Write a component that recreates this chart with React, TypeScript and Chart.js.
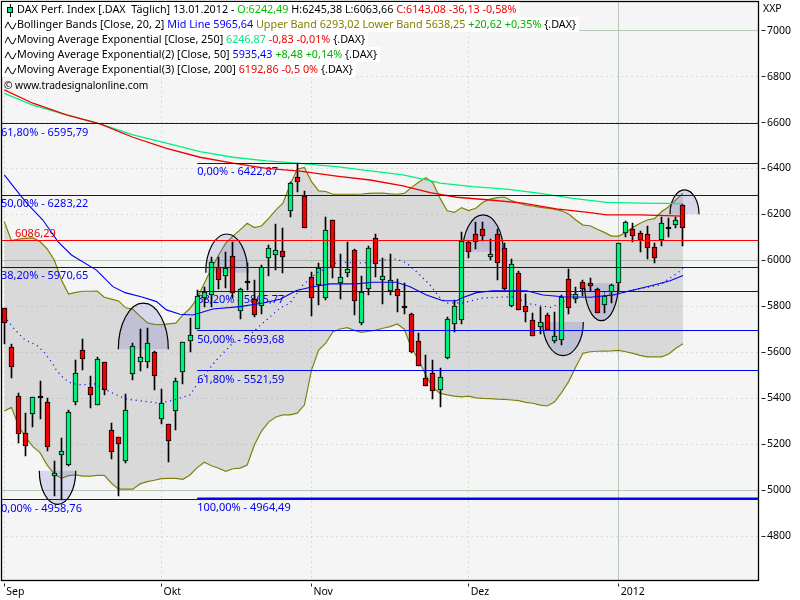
import React, { useEffect, useRef } from "react";
import Chart from "chart.js/auto";

const FONT = '"Noto Sans"';
const FONT_SIZE = 10.5;
const labelFont = `11px ${FONT}`;
const legendFont = `10.8px ${FONT}`;
const copyrightFont = `10.2px ${FONT}`;

const opens = [5792,5622,5409,5248,5333,5409,5383,5064,5155,5109,5386,5609,5448,5373,5557,5261,5231,5129,5505,5560,5557,5600,5312,5287,5344,5513,5648,5703,5835,5848,5970,5931,6018,5780,5912,5831,5802,6012,6022,6040,6216,6362,6280,5929,5895,5835,6175,5903,5947,6044,5729,5877,6096,5916,5868,5875,5802,5766,5648,5487,5512,5435,5577,5725,5740,6079,6114,6136,6016,6114,6053,5803,5944,5801,5740,5712,5763,5651,5653,5918,5831,5905,5901,5875,5805,5864,5901,6121,6138,6119,6114,6057,6088,6147,6156,6242];
const highs = [5795,5635,5422,5335,5407,5476,5400,5126,5226,5349,5567,5658,5497,5579,5557,5292,5231,5419,5641,5702,5705,5606,5441,5290,5487,5644,5748,5871,5883,6016,6016,6038,6079,5880,5988,5915,5980,6067,6159,6140,6343,6423,6302,5948,5988,6190,6175,6027,6082,6051,5932,6063,6114,6012,6027,5918,5901,5770,5683,5589,5567,5531,5755,5828,6125,6086,6169,6166,6093,6136,6075,6005,5954,5854,5770,5799,5773,5777,5850,5962,5883,5915,5924,5879,5850,5898,6075,6173,6162,6128,6150,6075,6188,6183,6190,6245];
const lows = [5637,5489,5205,5149,5277,5310,5172,4975,4959,5105,5371,5523,5358,5370,5415,5138,4977,5120,5481,5520,5532,5438,5289,5125,5262,5463,5603,5700,5799,5799,5875,5879,5835,5745,5871,5755,5767,5934,5958,5947,6190,6299,6140,5760,5806,5828,5922,5832,5927,5763,5721,5850,5927,5811,5850,5777,5767,5596,5540,5455,5397,5364,5573,5690,5725,6012,6050,6085,6002,5915,5872,5799,5783,5734,5673,5680,5699,5642,5632,5767,5816,5845,5867,5770,5773,5816,5864,6103,6082,6038,6008,5988,6063,6103,6143,6064];
const closes = [5729,5538,5246,5194,5405,5409,5190,5074,5170,5339,5509,5573,5416,5570,5435,5165,5200,5348,5627,5579,5640,5499,5379,5216,5474,5644,5674,5845,5861,5992,5914,5968,5857,5875,5912,5764,5970,6053,6044,6014,6336,6343,6140,5835,5967,6131,5966,5927,5961,5825,5864,6053,5983,5931,5914,5847,5802,5603,5540,5455,5431,5492,5744,5801,6086,6035,6079,6105,6027,5990,5875,5983,5783,5774,5673,5731,5699,5671,5842,5792,5853,5877,5888,5770,5847,5895,6075,6166,6108,6090,6056,6012,6162,6147,6175,6143];

const bandUpper = [6169,6086,6093,6096,6098,6082,6050,6002,5915,5854,5861,5866,5866,5867,5840,5832,5824,5794,5788,5758,5729,5722,5721,5724,5727,5763,5792,5835,5901,5966,6024,6075,6106,6133,6162,6143,6150,6183,6219,6249,6328,6397,6405,6343,6303,6300,6288,6288,6288,6288,6289,6292,6293,6293,6290,6288,6292,6318,6340,6360,6338,6270,6216,6209,6230,6217,6227,6253,6267,6273,6276,6260,6250,6241,6237,6231,6228,6223,6216,6202,6176,6154,6151,6136,6122,6106,6106,6122,6144,6162,6176,6182,6212,6234,6263,6293];
const bandLower = [5345,5361,5280,5231,5190,5164,5110,5071,5052,5064,5067,5062,5062,5065,5065,5031,5005,5005,5005,5028,5038,5044,5051,5052,5052,5048,5067,5099,5122,5107,5096,5083,5094,5097,5110,5197,5258,5297,5319,5328,5328,5336,5371,5523,5610,5640,5690,5702,5708,5696,5687,5692,5697,5705,5712,5724,5701,5618,5567,5502,5447,5422,5415,5410,5407,5410,5402,5400,5399,5397,5396,5393,5390,5383,5379,5371,5367,5384,5425,5473,5538,5596,5603,5605,5606,5607,5609,5603,5596,5587,5581,5581,5581,5593,5618,5638];

const ema50Idx = [0,2.2,3.4,5.4,7.5,9.4,12.9,15.2,16.9,19.4,21.3,22.7,24.6,26.4,29.2,33,36.2,38.6,40.9,43.2,45.6,49.3,51.6,54.9,56.8,59.1,61.4,63.3,64.2,66.1,68.4,73.1,75.4,78.2,82,85.2,87.6,90.4,93.2,95];
const ema50Val = [6372,6285,6241,6176,6082,6024,5958,5886,5860,5840,5821,5785,5766,5763,5789,5799,5815,5831,5869,5886,5898,5898,5905,5905,5886,5850,5825,5825,5839,5860,5868,5868,5850,5842,5840,5850,5868,5889,5912,5935];
const midIdx = [0.4,1.5,2.9,4.5,5.5,6.4,7.3,8.3,9.4,10.8,12.5,15,17.1,19.9,21.8,23.7,26,27.4,29.7,32,33.9,36.2,38.6,40,41.8,43.7,46.7,50.2,53,54.9,56.3,57.7,59.6,61,62.1,64.2,67,71.2,73.6,76.4,78,79.9,82,83.4,85.2,87.3,89.4,91.8,93.2,94.3,95];
const midVal = [5741,5698,5654,5632,5603,5567,5523,5487,5466,5458,5466,5425,5397,5386,5379,5393,5415,5480,5567,5641,5663,5728,5793,5815,5893,5945,5993,5989,6002,6006,5989,5951,5893,5837,5815,5815,5837,5842,5811,5796,5815,5863,5879,5864,5850,5864,5880,5893,5924,5947,5966];
const emaLongIdx = [0,4,8.7,13.4,18,22.7,27.4,32,36.7,41.4,46.5,51.2,55.8,59.6];
const ema250Idx = [...emaLongIdx,61,65.6,70.3,75,79.6,84.3,89,95];
const ema250Val = [6727,6676,6633,6594,6546,6510,6473,6449,6433,6422,6408,6390,6372,6347,6336,6321,6310,6292,6270,6253,6249,6247];
const ema200Idx = [...emaLongIdx,63.3,68,72.6,77.3,82,84.3,89,95];
const ema200Val = [6742,6684,6633,6594,6536,6488,6449,6423,6401,6389,6367,6350,6324,6295,6275,6263,6249,6224,6208,6198,6198,6193];

const X_MIN = -0.392;
const X_MAX = 105.57;
const Y_MIN = 4607.8;
const Y_MAX = 7126.5;

const yTicks = [4800,5000,5200,5400,5600,5800,6000,6200,6400,6600,6800,7000];
const xTicks = [0,22,43,65,86];
const xLabels = ["Sep","Okt","Nov","Dez","2012"];

// [value, start index, colour, width]
const hLines: [number, number, string, number][] = [
  [6595.79, X_MIN, "#0000ff", 1],
  [6283.22, X_MIN, "#0000ff", 1],
  [5970.65, X_MIN, "#0000ff", 1],
  [4958.76, X_MIN, "#0000ff", 1],
  [6422.87, 27, "#0000ff", 1],
  [5865.77, 27, "#0000ff", 1],
  [5693.68, 27, "#0000ff", 1],
  [5521.59, 27, "#0000ff", 1],
  [4964.49, 27, "#0000ff", 2],
  [6086.29, X_MIN, "#ff0000", 1],
];

// [text, value it hangs from, index, colour]
const levelLabels: [string, number, number, string][] = [
  ["61,80% - 6595,79", 6595.79, -0.46, "#0000f0"],
  ["50,00% - 6283,22", 6283.22, -0.46, "#0000f0"],
  ["38,20% - 5970,65", 5970.65, -0.46, "#0000f0"],
  ["0,00% - 4958,76", 4958.76, -0.46, "#0000f0"],
  ["0,00% - 6422,87", 6422.87, 27, "#0000f0"],
  ["38,20% - 5865,77", 5865.77, 27, "#0000f0"],
  ["50,00% - 5693,68", 5693.68, 27, "#0000f0"],
  ["61,80% - 5521,59", 5521.59, 27, "#0000f0"],
  ["100,00% - 4964,49", 4964.49, 27, "#0000f0"],
];
const redLabel: [string, number, number, string] = ["6086,29", 6086.29, 1.5, "#f00000"];

// [from index, to index, chord value, apex value]
const ellipses: [number, number, number, number][] = [
  [4.9, 10.0, 5085, 4939],
  [15.96, 22.96, 5614, 5814],
  [28.2, 34.07, 5947, 6115],
  [64.17, 69.85, 6038, 6198],
  [75.37, 81.05, 5732, 5586],
  [81.2, 85.95, 5901, 5738],
  [93.18, 97.24, 6201, 6307],
];

const legendRows: [string, string][][] = [
  [["DAX Perf. Index [.DAX  Täglich] 13.01.2012 - ", "#000"], ["O:6242,49 ", "#00c000"], ["H:6245,38 L:6063,66 ", "#000"], ["C:6143,08 -36,13 -0,58%", "#f00000"]],
  [["Bollinger Bands [Close, 20, 2] ", "#000"], ["Mid Line 5965,64 ", "#0000ff"], ["Upper Band 6293,02 Lower Band 5638,25 ", "#808000"], ["+20,62 +0,35% ", "#00b000"], ["{.DAX}", "#000"]],
  [["Moving Average Exponential [Close, 250] ", "#000"], ["6246,87 ", "#00e880"], ["-0,83 -0,01% ", "#f00000"], ["{.DAX}", "#000"]],
  [["Moving Average Exponential(2) [Close, 50] ", "#000"], ["5935,43 ", "#0000ff"], ["+8,48 +0,14% ", "#00b000"], ["{.DAX}", "#000"]],
  [["Moving Average Exponential(3) [Close, 200] ", "#000"], ["6192,86 -0,5 0% ", "#f00000"], ["{.DAX}", "#000"]],
];
const copyright = "© www.tradesignalonline.com";
const unitLabel = "XXP";

const PLOT_BG = "#f5f5f5";
const indices = opens.map((_, i) => i);

const paired = (xs: number[], ys: number[]) => xs.map((x, i) => ({ x, y: ys[i] }));

const lineBase = { type: "line" as const, pointRadius: 0, tension: 0, fill: false };

const paint = {
  id: "paint",
  beforeDraw(chart: any) {
    const { ctx, chartArea: a } = chart;
    ctx.save();
    ctx.fillStyle = "#ffffff";
    ctx.fillRect(0, 0, 800, 600);
    ctx.fillStyle = PLOT_BG;
    ctx.fillRect(a.left, a.top, a.right - a.left, a.bottom - a.top);
    ctx.restore();
  },
  afterDatasetsUpdate(chart: any) {
    chart.data.datasets.forEach((ds: any, i: number) => {
      const meta = chart.getDatasetMeta(i);
      if (ds.type === "bar") {
        meta.data.forEach((el: any) => {
          el.x = Math.floor(el.x) + 0.5;
          const top = Math.round(Math.min(el.y, el.base));
          let bot = Math.round(Math.max(el.y, el.base));
          if (ds.label === "doji") bot = top + 2;
          else if (ds.label !== "wicks" && bot - top < 3) bot = top + 3;
          el.y = top;
          el.base = bot;
          el.height = bot - top;
        });
      } else if (ds.label === "level") {
        meta.data.forEach((el: any) => {
          el.y = Math.floor(el.y) + 0.5;
        });
      }
    });
  },
  beforeDatasetDraw(chart: any, args: any) {
    if (chart.data.datasets[args.index].label !== "wicks") return;
    const { ctx, chartArea: a, scales } = chart;
    const sx = scales.x;
    const sy = scales.y;
    ctx.save();
    ctx.beginPath();
    ctx.rect(a.left, a.top, a.right - a.left, a.bottom - a.top);
    ctx.clip();
    ctx.font = labelFont;
    ctx.textBaseline = "middle";
    ctx.textAlign = "left";
    for (const [text, v, ix, col] of [...levelLabels, redLabel]) {
      ctx.fillStyle = col;
      const off = text === redLabel[0] ? -6.5 : 9;
      ctx.fillText(text, sx.getPixelForValue(ix), sy.getPixelForValue(v) + off);
    }
    for (const [from, to, chord, apex] of ellipses) {
      const x0 = sx.getPixelForValue(from);
      const x1 = sx.getPixelForValue(to);
      const yc = sy.getPixelForValue(chord);
      const ya = sy.getPixelForValue(apex);
      const up = ya < yc;
      const cx = (x0 + x1) / 2;
      const rx = (x1 - x0) / 2;
      const ry = Math.abs(yc - ya);
      const a0 = up ? Math.PI : 0;
      const a1 = up ? 2 * Math.PI : Math.PI;
      ctx.beginPath();
      ctx.ellipse(cx, yc, rx, ry, 0, a0, a1);
      ctx.closePath();
      ctx.fillStyle = "rgba(100,100,200,0.2)";
      ctx.fill();
      ctx.beginPath();
      ctx.ellipse(cx, yc, rx, ry, 0, a0, a1);
      ctx.strokeStyle = "#000";
      ctx.lineWidth = 1.2;
      ctx.stroke();
    }
    ctx.restore();
  },
  afterDraw(chart: any) {
    const { ctx, chartArea: a, scales } = chart;
    ctx.save();
    // frame
    ctx.strokeStyle = "#000";
    ctx.lineWidth = 1.3;
    ctx.strokeRect(a.left, a.top, a.right - a.left, a.bottom - a.top);
    ctx.lineWidth = 1;
    // tick marks, set off from the frame
    ctx.strokeStyle = "#202020";
    ctx.beginPath();
    for (const v of yTicks) {
      const y = Math.floor(scales.y.getPixelForValue(v)) + 0.5;
      ctx.moveTo(a.right + 3, y);
      ctx.lineTo(a.right + 7, y);
    }
    for (const v of xTicks) {
      const x = Math.floor(scales.x.getPixelForValue(v)) + 0.5;
      ctx.moveTo(x, a.bottom + 3);
      ctx.lineTo(x, a.bottom + 6);
    }
    ctx.stroke();

    ctx.textBaseline = "middle";
    ctx.textAlign = "left";
    ctx.fillStyle = "#000";
    ctx.font = `${FONT_SIZE}px ${FONT}`;
    ctx.fillText(unitLabel, a.right + 4.5, 9.5);

    ctx.font = legendFont;
    legendRows.forEach((row, r) => {
      const y = 10 + 15 * r;
      const total = row.reduce((s, [t]) => s + ctx.measureText(t).width, 0);
      ctx.fillStyle = "#ffffff";
      ctx.fillRect(2, y - 8, 15 + total + 3, 15);
      let x = 17;
      for (const [t, c] of row) {
        ctx.fillStyle = c;
        ctx.fillText(t, x, y);
        x += ctx.measureText(t).width;
      }
      ctx.strokeStyle = "#000";
      ctx.lineWidth = 1;
      if (r === 0) {
        ctx.beginPath();
        ctx.moveTo(10.5, 4);
        ctx.lineTo(10.5, 17);
        ctx.stroke();
        ctx.fillStyle = "#00e87a";
        ctx.fillRect(8, 7, 5, 6);
        ctx.strokeRect(7.5, 7.5, 5, 5);
      } else {
        ctx.beginPath();
        ctx.moveTo(5, y + 3);
        ctx.lineTo(8, y - 3);
        ctx.lineTo(11, y + 3);
        ctx.lineTo(13, y + 4);
        ctx.lineTo(16, y - 2);
        ctx.stroke();
      }
    });
    ctx.font = copyrightFont;
    ctx.fillStyle = "#000";
    ctx.fillText(copyright, 4, 86);
    ctx.restore();
  },
};

export default function App() {
  const ref = useRef<HTMLCanvasElement | null>(null);
  useEffect(() => {
    if (!ref.current) return;
    const up = indices.filter((i) => closes[i] > opens[i]);
    const down = indices.filter((i) => closes[i] < opens[i]);
    const flat = indices.filter((i) => closes[i] === opens[i]);
    const body = (list: number[]) => list.map((i) => ({ x: i, y: [opens[i], closes[i]] }));
    const barBase = { type: "bar" as const, grouped: false, borderSkipped: false, borderColor: "#000", borderWidth: 1, barThickness: 5 };

    const chart = new Chart(ref.current, {
      type: "bar",
      data: {
        datasets: [
          ...hLines.map(([v, start, color, width]) => ({
            ...lineBase,
            label: "level",
            data: [{ x: start, y: v }, { x: X_MAX, y: v }],
            borderColor: color,
            borderWidth: width,
            order: 1,
          })),
          { ...lineBase, label: "EMA 200", data: paired(ema200Idx, ema200Val), borderColor: "#f00000", borderWidth: 1.3, order: 2 },
          { ...lineBase, label: "EMA 250", data: paired(ema250Idx, ema250Val), borderColor: "#00f080", borderWidth: 1.3, order: 2 },
          { ...lineBase, label: "EMA 50", data: paired(ema50Idx, ema50Val), borderColor: "#0000f0", borderWidth: 1.1, order: 2 },
          { ...lineBase, label: "Mid Line", data: paired(midIdx, midVal), borderColor: "#0000f0", borderWidth: 1.3, borderDash: [1, 4], order: 2 },
          { ...barBase, label: "doji", data: body(flat), backgroundColor: "#000", order: 5 },
          { ...barBase, label: "up", data: body(up), backgroundColor: "#00f07c", order: 5 },
          { ...barBase, label: "down", data: body(down), backgroundColor: "#f50000", order: 5 },
          { type: "bar" as const, label: "wicks", grouped: false, barThickness: 1, backgroundColor: "#000", borderWidth: 0, data: indices.map((i) => ({ x: i, y: [lows[i], highs[i]] })), order: 6 },
          { ...lineBase, label: "Upper Band", data: indices.map((i) => ({ x: i, y: bandUpper[i] })), borderColor: "#808000", borderWidth: 1.2, backgroundColor: "rgba(128,128,128,0.24)", fill: "+1", order: 7 },
          { ...lineBase, label: "Lower Band", data: indices.map((i) => ({ x: i, y: bandLower[i] })), borderColor: "#808000", borderWidth: 1.2, order: 7 },
        ],
      } as any,
      plugins: [paint],
      options: {
        responsive: false,
        animation: false,
        events: [],
        layout: { padding: { left: 1.5, top: 1.5, right: 0, bottom: 0 } },
        plugins: { legend: { display: false }, tooltip: { enabled: false }, title: { display: false } },
        scales: {
          x: {
            type: "linear",
            offset: false,
            min: X_MIN,
            max: X_MAX,
            grid: {
              offset: false,
              drawTicks: false,
              color: "#b4c8b4",
              lineWidth: 1,
            },
            border: {
              display: false,
              dash: (c: any) => (c.tick && c.tick.value === 86 ? [] : [1, 4]),
            },
            afterBuildTicks: (s: any) => {
              s.ticks = xTicks.map((value) => ({ value }));
            },
            afterFit: (s: any) => {
              s.height = 19.5;
              s.paddingLeft = s.paddingRight = s.paddingTop = s.paddingBottom = 0;
            },
            ticks: {
              autoSkip: false,
              maxRotation: 0,
              minRotation: 0,
              align: "start",
              labelOffset: 2,
              padding: 5,
              color: "#000",
              font: { family: FONT, size: FONT_SIZE },
              callback: (v: any) => xLabels[xTicks.indexOf(Number(v))] ?? "",
            },
          },
          y: {
            type: "linear",
            position: "right",
            min: Y_MIN,
            max: Y_MAX,
            grid: {
              drawTicks: false,
              color: (c: any) => (c.tick && c.tick.value % 1000 === 0 ? "#b4c8b4" : "#c0c8c0"),
              lineWidth: 1,
            },
            border: {
              display: false,
              dash: (c: any) => (c.tick && c.tick.value % 1000 === 0 ? [] : [1, 4]),
            },
            afterBuildTicks: (s: any) => {
              s.ticks = yTicks.map((value) => ({ value }));
            },
            afterFit: (s: any) => {
              s.width = 41.5;
              s.paddingLeft = s.paddingRight = s.paddingTop = s.paddingBottom = 0;
            },
            ticks: {
              autoSkip: false,
              padding: 8.5,
              color: "#000",
              font: { family: FONT, size: FONT_SIZE },
              callback: (v: any) => String(v),
            },
          },
        },
      } as any,
    });
    return () => chart.destroy();
  }, []);
  return <canvas ref={ref} width={800} height={600} style={{ position: "fixed", left: 0, top: 0, display: "block" }} />;
}
